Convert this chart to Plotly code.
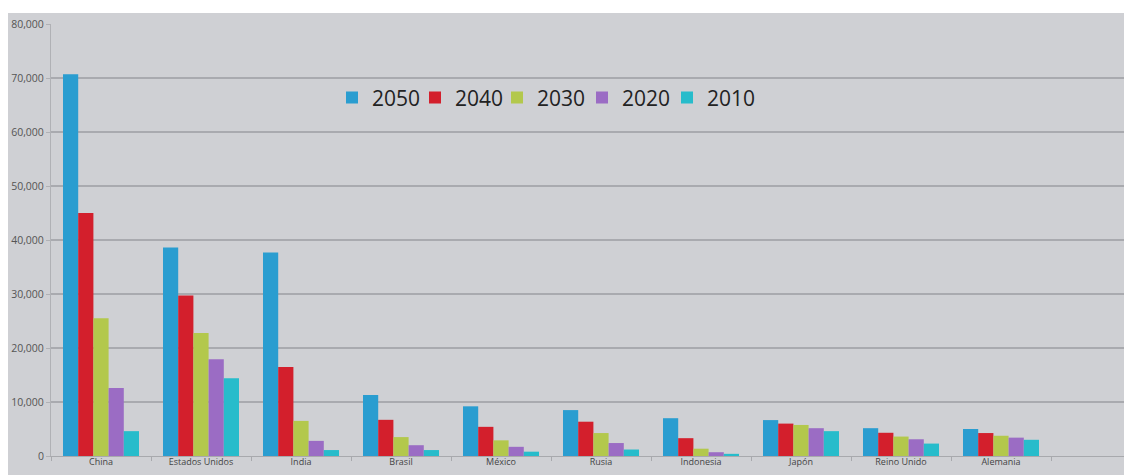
import plotly.graph_objects as go

countries = ["China", "Estados Unidos", "India", "Brasil", "México", "Rusia",
             "Indonesia", "Japón", "Reino Unido", "Alemania"]
years = ["2050", "2040", "2030", "2020", "2010"]
v2050 = [70700, 38600, 37700, 11300, 9200, 8500, 7000, 6650, 5150, 5000]
v2040 = [45000, 29700, 16500, 6700, 5400, 6350, 3300, 6000, 4300, 4250]
v2030 = [25500, 22800, 6500, 3500, 2900, 4250, 1350, 5750, 3600, 3750]
v2020 = [12600, 17900, 2800, 2000, 1700, 2400, 700, 5150, 3100, 3400]
v2010 = [4600, 14400, 1100, 1100, 800, 1200, 400, 4600, 2300, 3000]
series = [v2050, v2040, v2030, v2020, v2010]
colors = ["#2a9dd0", "#d31f2c", "#b3c84c", "#9b6cc4", "#27bccb"]

fig = go.Figure()
legend_ids = ["legend", "legend2", "legend3", "legend4", "legend5"]
for name, vals, col, lid in zip(years, series, colors, legend_ids):
    fig.add_trace(go.Bar(name=name, x=countries, y=vals, marker_color=col,
                         marker_line_width=0, legend=lid))

fig.add_shape(type="rect", xref="paper", yref="paper",
              x0=-0.0398, x1=1.01, y0=-0.08, y1=1.0255,
              fillcolor="#cfd0d4", line_width=0, layer="below")

legend_font = dict(size=21, color="#222", family="Open Sans, sans-serif")
legend_px = [332, 415, 497, 582, 667]
legends = {}
for lid, px in zip(legend_ids, legend_px):
    legends[lid] = dict(orientation="h", x=(px - 51) / 1081, y=0.829, xanchor="left",
                        yanchor="middle", bgcolor="rgba(0,0,0,0)", font=legend_font,
                        itemwidth=30)

fig.update_layout(
    width=1132, height=475,
    margin=dict(l=43, r=8, t=16, b=27, autoexpand=False),
    paper_bgcolor="white", plot_bgcolor="#cfd0d4",
    barmode="group", bargap=0.24, bargroupgap=0,
    font=dict(family="Open Sans, sans-serif", color="#555"),
    showlegend=True,
    xaxis=dict(range=[-0.5, 10.31], showgrid=False, showline=True, linecolor="#a8a9ad",
               ticks="outside", tickson="boundaries", ticklen=4, tickcolor="#a8a9ad",
               tickfont=dict(size=9, color="#444"), automargin=False,
               ticklabelstandoff=-3),
    yaxis=dict(range=[0, 80000], tickvals=[0, 10000, 20000, 30000, 40000, 50000, 60000, 70000, 80000],
               tickformat=",", showgrid=True, gridcolor="#a9aaaf", gridwidth=1.5,
               showline=True, linecolor="#b0b1b5", ticks="outside", ticklen=4,
               tickcolor="#b0b1b5", tickfont=dict(size=10.5, color="#555"), zeroline=False,
               automargin=False),
    **legends,
)
fig.write_html("out.html")
